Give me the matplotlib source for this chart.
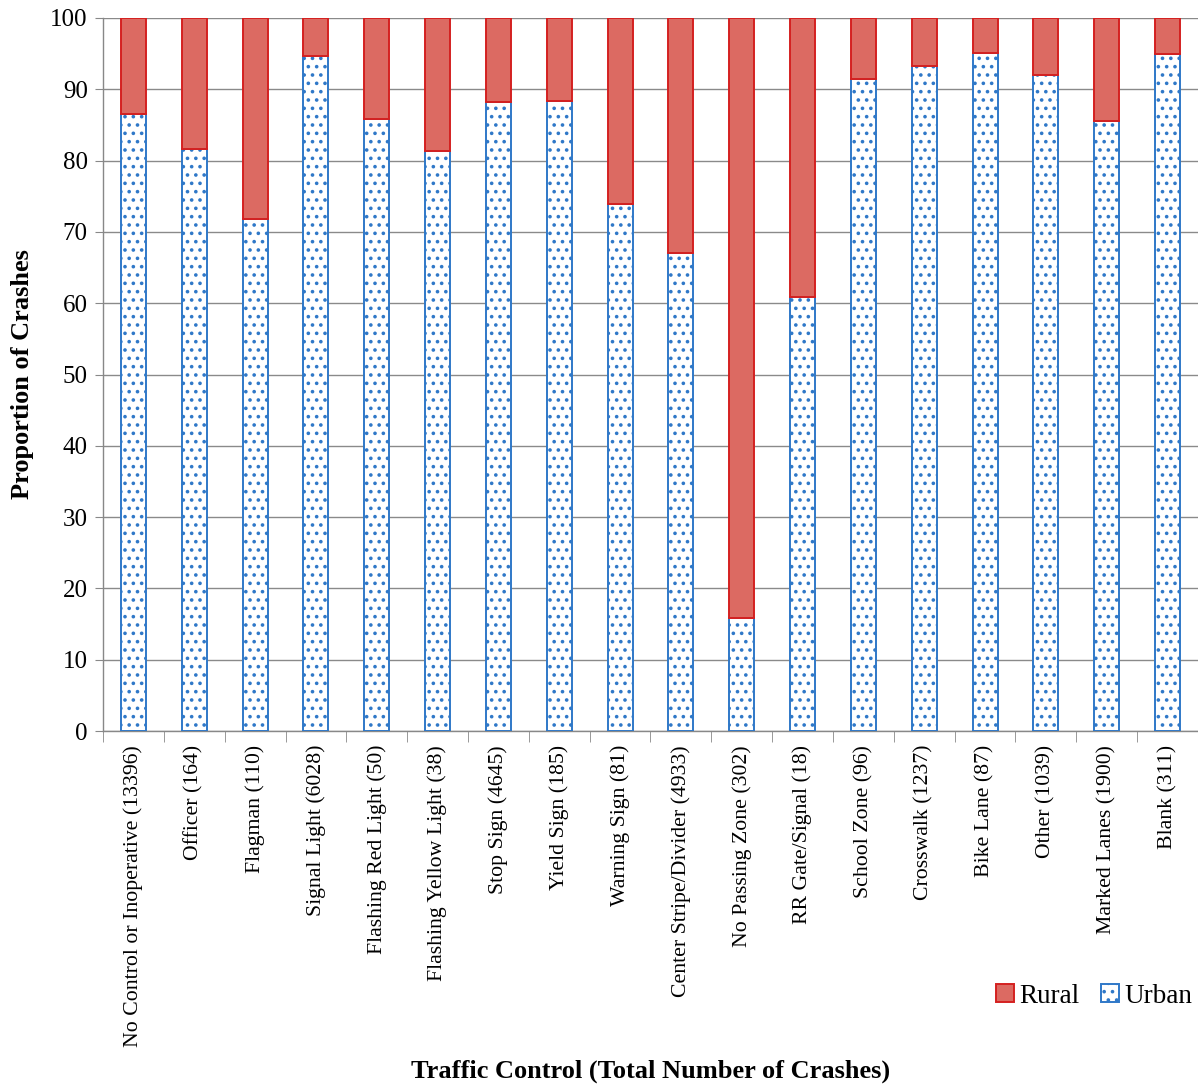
import matplotlib
matplotlib.use("Agg")
import matplotlib.pyplot as plt
import numpy as np

categories = [
    "No Control or Inoperative (13396)", "Officer (164)", "Flagman (110)",
    "Signal Light (6028)", "Flashing Red Light (50)", "Flashing Yellow Light (38)",
    "Stop Sign (4645)", "Yield Sign (185)", "Warning Sign (81)",
    "Center Stripe/Divider (4933)", "No Passing Zone (302)", "RR Gate/Signal (18)",
    "School Zone (96)", "Crosswalk (1237)", "Bike Lane (87)", "Other (1039)",
    "Marked Lanes (1900)", "Blank (311)",
]
urban = [86.5, 81.6, 71.8, 94.7, 85.9, 81.4, 88.2, 88.4, 73.9,
         67.0, 15.8, 60.9, 91.4, 93.2, 95.1, 92.0, 85.5, 94.9]
rural = [100 - u for u in urban]
yticks = [0, 10, 20, 30, 40, 50, 60, 70, 80, 90, 100]

plt.rcParams['font.family'] = ['Liberation Serif', 'DejaVu Serif']
plt.rcParams['hatch.linewidth'] = 1.4

W, H = 1198, 1085
fig = plt.figure(figsize=(W / 100, H / 100), dpi=100)
left, right, top, bottom = 103, 1198, 18, 731
ax = fig.add_axes([left / W, 1 - bottom / H, (right - left) / W, (bottom - top) / H])

x = np.arange(len(categories))
bw = 0.41
blue = "#2f78c8"
redfill = "#dc6a62"
rededge = "#d42020"

ax.bar(x, urban, width=bw, color="white", edgecolor=blue, hatch="..",
       linewidth=1.4, label="Urban", zorder=3)
ax.bar(x, rural, width=bw, bottom=urban, color=redfill, edgecolor=rededge,
       linewidth=1.4, label="Rural", zorder=3)

ax.set_xlim(-0.5, -0.5 + (right - left) / 61.0)
ax.set_ylim(0, 100)
ax.set_yticks(yticks)
ax.tick_params(axis='y', labelsize=18, length=6, color="#888888", pad=5)
ax.yaxis.grid(True, color="#8a8a8a", linewidth=1.0, zorder=0)
ax.set_axisbelow(True)

ax.set_xticks(x)
ax.set_xticklabels(categories, rotation=90, fontsize=15.7, va='top', ha='center')
ax.set_xticks(np.arange(-0.5, len(categories), 1.0), minor=True)
ax.tick_params(axis='x', which='major', length=0, pad=10)
ax.tick_params(axis='x', which='minor', length=8, color="#888888")

for s in ['top', 'right']:
    ax.spines[s].set_visible(False)
for s in ['left', 'bottom']:
    ax.spines[s].set_color("#888888")
    ax.spines[s].set_linewidth(1.0)

ax.set_ylabel("Proportion of Crashes", fontsize=19, fontweight='bold', labelpad=12)
fig.text(0.543, 0.002, "Traffic Control (Total Number of Crashes)", fontsize=19,
         fontweight='bold', ha='center', va='bottom')

handles, labels = ax.get_legend_handles_labels()
leg = fig.legend(handles[::-1], labels[::-1], loc='center right',
                 bbox_to_anchor=(0.995, 0.082), ncol=2, frameon=False,
                 fontsize=19.5, handlelength=0.65, handleheight=0.65,
                 handletextpad=0.2, columnspacing=0.8,
                 borderpad=0, borderaxespad=0)

fig.savefig("out.png", dpi=100)
